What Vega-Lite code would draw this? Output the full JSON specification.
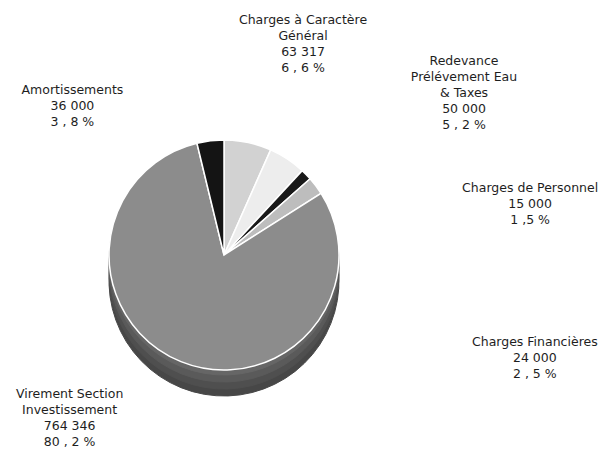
{
  "$schema": "https://vega.github.io/schema/vega-lite/v6.json",
  "autosize": "none",
  "width": 448,
  "height": 398,
  "padding": {"left": 0, "right": 161, "top": 56, "bottom": 0},
  "background": "white",
  "config": {"view": {"stroke": null}},
  "data": {
    "values": [
      {"category": "Charges à Caractère Général", "value": 63317, "rank": 1, "label": "Charges à Caractère\nGénéral\n63  317\n6 , 6 %"},
      {"category": "Redevance Prélévement Eau & Taxes", "value": 50000, "rank": 2, "label": "Redevance\nPrélévement Eau\n& Taxes\n50  000\n5 , 2  %"},
      {"category": "Charges de Personnel", "value": 15000, "rank": 3, "label": "Charges de Personnel\n15 000\n1 ,5 %"},
      {"category": "Charges Financières", "value": 24000, "rank": 4, "label": "Charges Financières\n24 000\n2 , 5 %"},
      {"category": "Virement Section Investissement", "value": 764346, "rank": 5, "label": "Virement Section\nInvestissement\n764 346\n80 , 2  %"},
      {"category": "Amortissements", "value": 36000, "rank": 6, "label": "Amortissements\n36 000\n3 , 8 %"}
    ]
  },
  "transform": [
    {"joinaggregate": [{"op": "sum", "field": "value", "as": "total"}]},
    {"window": [{"op": "sum", "field": "value", "as": "cum"}], "sort": [{"field": "rank"}], "frame": [null, 0]},
    {"calculate": "(datum.cum - datum.value) / datum.total", "as": "startFrac"},
    {"calculate": "datum.cum / datum.total", "as": "endFrac"},
    {"calculate": "(datum.cum - datum.value / 2) / datum.total", "as": "midFrac"}
  ],
  "layer": [
    {
      "mark": {"type": "arc", "outerRadius": 115, "yOffset": 26, "fill": "#474747", "stroke": "#474747"},
      "encoding": {
        "theta": {"field": "startFrac", "type": "quantitative", "stack": null, "scale": {"domain": [0, 1], "range": [0, 6.283185307179586]}},
        "theta2": {"field": "endFrac"}
      }
    },
    {
      "mark": {"type": "arc", "outerRadius": 115, "yOffset": 19, "fill": "#4f4f4f", "stroke": "#4f4f4f"},
      "encoding": {
        "theta": {"field": "startFrac", "type": "quantitative", "stack": null, "scale": {"domain": [0, 1], "range": [0, 6.283185307179586]}},
        "theta2": {"field": "endFrac"}
      }
    },
    {
      "mark": {"type": "arc", "outerRadius": 115, "yOffset": 12, "fill": "#5a5a5a", "stroke": "#5a5a5a"},
      "encoding": {
        "theta": {"field": "startFrac", "type": "quantitative", "stack": null, "scale": {"domain": [0, 1], "range": [0, 6.283185307179586]}},
        "theta2": {"field": "endFrac"}
      }
    },
    {
      "mark": {"type": "arc", "outerRadius": 115, "yOffset": 5, "fill": "#666666", "stroke": "#666666"},
      "encoding": {
        "theta": {"field": "startFrac", "type": "quantitative", "stack": null, "scale": {"domain": [0, 1], "range": [0, 6.283185307179586]}},
        "theta2": {"field": "endFrac"}
      }
    },
    {
      "mark": {"type": "arc", "outerRadius": 115, "stroke": "white", "strokeWidth": 1.5},
      "encoding": {
        "theta": {"field": "startFrac", "type": "quantitative", "stack": null, "scale": {"domain": [0, 1], "range": [0, 6.283185307179586]}},
        "theta2": {"field": "endFrac"},
        "color": {
          "field": "category",
          "type": "nominal",
          "legend": null,
          "scale": {
            "domain": ["Charges à Caractère Général", "Redevance Prélévement Eau & Taxes", "Charges de Personnel", "Charges Financières", "Virement Section Investissement", "Amortissements"],
            "range": ["#d2d2d2", "#ededed", "#1a1a1a", "#bdbdbd", "#8c8c8c", "#141414"]
          }
        }
      }
    },
    {
      "transform": [{"filter": "datum.rank == 1"}],
      "mark": {"type": "text", "radius": 140, "dx": 50, "dy": -98, "lineBreak": "\n", "lineHeight": 16, "font": "DejaVu Sans", "fontSize": 12.5, "fill": "#1e1e1e", "align": "center", "baseline": "middle"},
      "encoding": {"theta": {"field": "midFrac", "type": "quantitative", "stack": null}, "text": {"field": "label"}}
    },
    {
      "transform": [{"filter": "datum.rank == 2"}],
      "mark": {"type": "text", "radius": 140, "dx": 163, "dy": -77, "lineBreak": "\n", "lineHeight": 16, "font": "DejaVu Sans", "fontSize": 12.5, "fill": "#1e1e1e", "align": "center", "baseline": "middle"},
      "encoding": {"theta": {"field": "midFrac", "type": "quantitative", "stack": null}, "text": {"field": "label"}}
    },
    {
      "transform": [{"filter": "datum.rank == 3"}],
      "mark": {"type": "text", "radius": 140, "dx": 206, "dy": 31, "lineBreak": "\n", "lineHeight": 16, "font": "DejaVu Sans", "fontSize": 12.5, "fill": "#1e1e1e", "align": "center", "baseline": "middle"},
      "encoding": {"theta": {"field": "midFrac", "type": "quantitative", "stack": null}, "text": {"field": "label"}}
    },
    {
      "transform": [{"filter": "datum.rank == 4"}],
      "mark": {"type": "text", "radius": 140, "dx": 199, "dy": 171, "lineBreak": "\n", "lineHeight": 16, "font": "DejaVu Sans", "fontSize": 12.5, "fill": "#1e1e1e", "align": "center", "baseline": "middle"},
      "encoding": {"theta": {"field": "midFrac", "type": "quantitative", "stack": null}, "text": {"field": "label"}}
    },
    {
      "transform": [{"filter": "datum.rank == 5"}],
      "mark": {"type": "text", "radius": 140, "dx": -102, "dy": 9, "lineBreak": "\n", "lineHeight": 16, "font": "DejaVu Sans", "fontSize": 12.5, "fill": "#1e1e1e", "align": "center", "baseline": "middle"},
      "encoding": {"theta": {"field": "midFrac", "type": "quantitative", "stack": null}, "text": {"field": "label"}}
    },
    {
      "transform": [{"filter": "datum.rank == 6"}],
      "mark": {"type": "text", "radius": 140, "dx": -135, "dy": -26, "lineBreak": "\n", "lineHeight": 16, "font": "DejaVu Sans", "fontSize": 12.5, "fill": "#1e1e1e", "align": "center", "baseline": "middle"},
      "encoding": {"theta": {"field": "midFrac", "type": "quantitative", "stack": null}, "text": {"field": "label"}}
    }
  ]
}
